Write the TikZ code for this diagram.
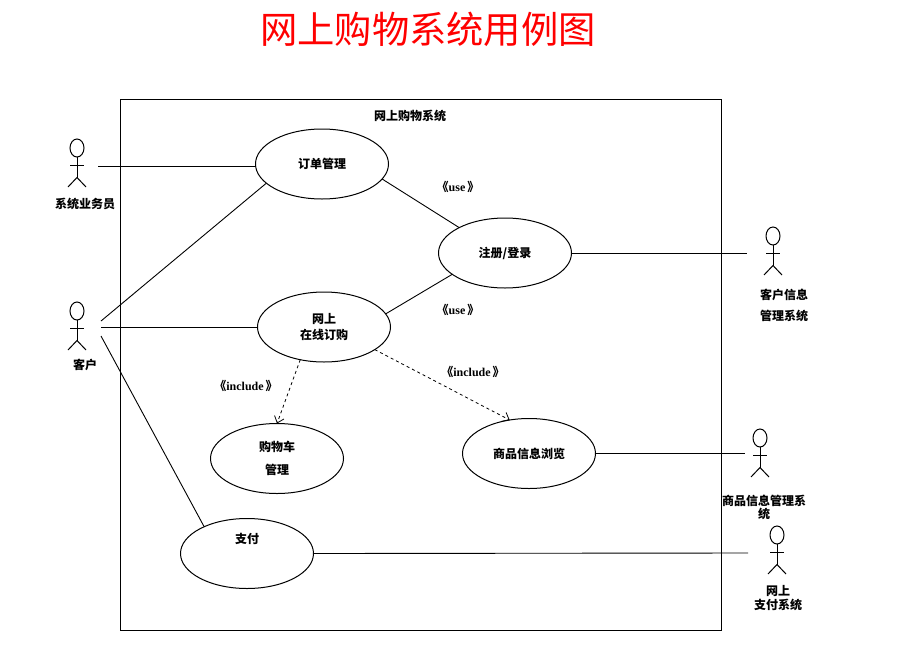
\documentclass[tikz,border=0pt]{standalone}
\usepackage{fontspec}
\setmainfont{Noto Sans CJK SC}
\newfontfamily\latinserif{Liberation Serif}
\usetikzlibrary{arrows.meta, shapes.geometric}

\begin{document}
\begin{tikzpicture}[
    x=1pt, y=-1pt,
    line width=1pt,
    usecase/.style={draw, ellipse, minimum width=133pt, minimum height=70pt, inner sep=0pt, outer sep=0pt, align=center, font=\fontsize{12}{14}\selectfont\bfseries},
    lbl/.style={inner sep=0pt, align=center, font=\fontsize{12}{14}\selectfont\bfseries},
    stereo/.style={inner sep=0pt, font=\fontsize{12}{14}\selectfont\bfseries},
    assoc/.style={line width=0.9pt},
    incl/.style={dashed, line width=0.8pt, -{Straight Barb[length=6pt, width=10pt]}},
    actor/.pic={
        \draw (0,0) ellipse (7 and 9);
        \draw (0,9) -- (0,29.5);
        \draw (-7,17.5) -- (7,17.5);
        \draw (-9,39) -- (0,29.5) -- (9,39);
    }
]
\useasboundingbox (0,0) rectangle (907,648);

\node[red, inner sep=0pt, font=\fontsize{37.3}{38}\selectfont] (title) at (428,29) {网上购物系统用例图};
\node[draw, minimum width=601pt, minimum height=531pt, inner sep=0pt, outer sep=0pt] (system) at (420.5,364.5) {};
\node[lbl] (systemname) at (410,116) {网上购物系统};

% use cases
\node[usecase] (order) at (322,164) {订单管理};
\node[usecase] (login) at (505,253) {注册/登录};
\node[usecase] (online) at (324,327) {网上\\[2pt]在线订购};
\node[usecase] (cart) at (277,458.5) {\raisebox{2pt}{购物车}\\[6pt]\raisebox{-1pt}{管理}};
\node[usecase] (browse) at (529,453.5) {商品信息浏览};
\node[usecase] (pay) at (247,553.5) {\raisebox{30pt}{支付}};

% actors
\pic at (77,148) {actor};
\pic at (77,311) {actor};
\pic at (773,236) {actor};
\pic at (760,438) {actor};
\pic at (777,535) {actor};

\node[lbl] (staff) at (85,204) {系统业务员};
\node[lbl] (customer) at (85,365) {客户};
\node[lbl] (custsys) at (784,305.5) {客户信息\\[7pt]管理系统};
\node[lbl] (goodssys) at (764,507) {商品信息管理系\\[-1pt]统};
\node[lbl] (paysys) at (778,598) {网上\\[0pt]支付系统};

% free ends beside the actors
\coordinate (staffend) at (98,166);
\coordinate (custa) at (101,321);
\coordinate (custb) at (101,327);
\coordinate (custc) at (101,336);
\coordinate (custsysend) at (747,253);
\coordinate (goodsend) at (745,453.5);
\coordinate (payend) at (748,553);

\draw[assoc] (staffend) -- (order.west |- staffend);
\draw[assoc] (custa) -- (order.199);
\draw[assoc] (custb) -- (online.west |- custb);
\draw[assoc] (custc) -- (pay.148);
\draw[assoc] (order.-14) -- (login.151);
\draw[assoc] (online.12) -- (login.202);
\draw[assoc] (login.east) -- (custsysend);
\draw[assoc] (browse.east) -- (goodsend);
\draw[assoc] (pay.east) -- (payend);

\draw[incl] (online.234) -- (cart.north);
\draw[incl] (online.-24) -- (browse.120);

\node[stereo] (usea) at (458,187) {《{\latinserif use}\,》};
\node[stereo] (useb) at (458,310) {《{\latinserif use}\,》};
\node[stereo] (incla) at (246,386) {《{\latinserif include}\,》};
\node[stereo] (inclb) at (473,372) {《{\latinserif include}\,》};
\end{tikzpicture}
\end{document}
